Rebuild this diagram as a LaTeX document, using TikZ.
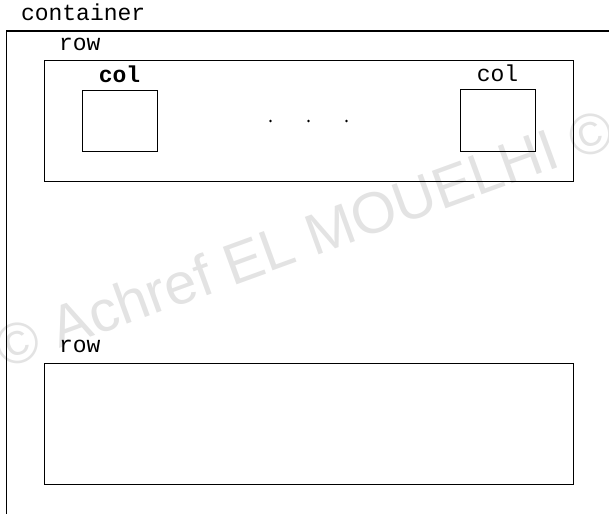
\documentclass[tikz,border=0pt]{standalone}
\usepackage{fontspec}
\setmonofont{Liberation Mono}
\newfontfamily\wmfont{Liberation Sans}
\usetikzlibrary{positioning}

\begin{document}
\begin{tikzpicture}[x=1pt, y=-1pt, line width=1pt,
    box/.style={rectangle, draw, inner sep=0pt},
    lbl/.style={inner sep=0pt, font=\fontsize{23}{26}\selectfont\ttfamily}]
  \clip[use as bounding box] (0,0) rectangle (609,513);
  % Watermark
  \node[text=gray!22, rotate=20, font=\fontsize{58}{60}\selectfont\wmfont] (wm) at (304,238) {© Achref EL MOUELHI ©};
  % Container
  \node[box, anchor=north west, minimum width=700pt, minimum height=600pt, line width=1.2pt] (cont) at (5.5,30.5) {};
  \node[lbl, above right=9pt and 15pt of cont.north west] {container};
  % Row 1
  \node[box, minimum width=529pt, minimum height=120pt] (row1) at (308.5,121) {};
  \node[lbl, above right=9pt and 15pt of row1.north west] {row};
  % Columns
  \node[box, minimum width=75pt, minimum height=60pt] (col1) at (119.5,121) {};
  \node[box, minimum width=75pt, minimum height=61pt] (col2) at (497.5,120.5) {};
  \node[lbl, above=7pt of col1, font=\fontsize{23}{26}\selectfont\ttfamily\bfseries] {col};
  \node[lbl, above=7pt of col2] {col};
  \foreach \dx in {-38,0,38} {
    \fill ([xshift=\dx pt]row1.center) circle (1.4pt);
  }
  % Row 2
  \node[box, minimum width=529pt, minimum height=121pt] (row2) at (308.5,423.5) {};
  \node[lbl, above right=9pt and 15pt of row2.north west] {row};
\end{tikzpicture}
\end{document}
